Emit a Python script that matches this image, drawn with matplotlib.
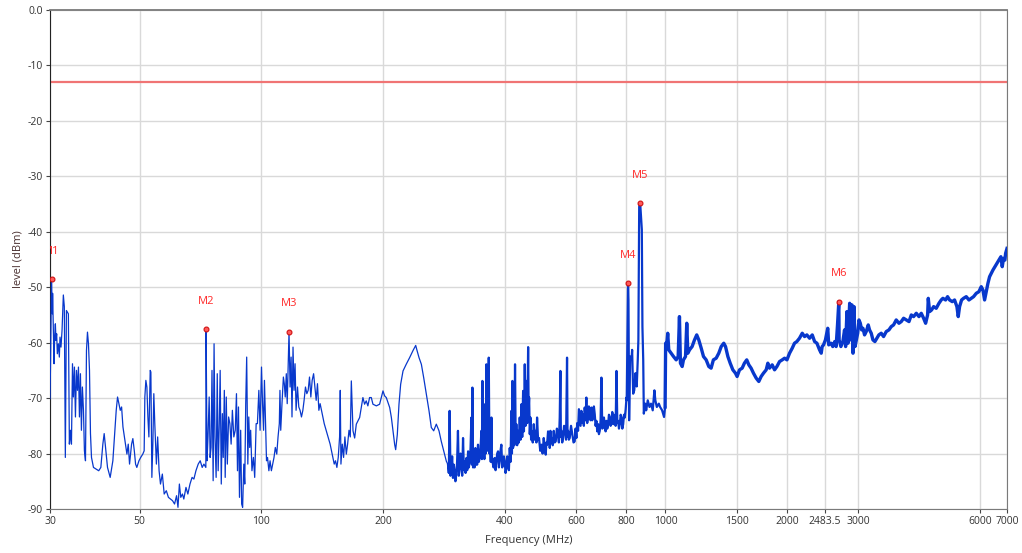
import matplotlib
matplotlib.use("Agg")
from matplotlib import pyplot as plt
import numpy as np

plt.rcParams['font.family'] = ['Open Sans', 'DejaVu Sans']

# spectrum trace (MHz, dBm)
freq_low = [30.0, 30.1, 30.26, 30.4, 30.45, 30.58, 30.7, 30.8, 30.93, 31.04, 31.16, 31.28, 31.46, 31.64,
            31.76, 31.94, 32.13, 32.37, 32.55, 32.74, 32.94, 33.13, 33.31, 33.5, 33.7, 33.9, 34.1, 34.28,
            34.48, 34.68, 34.88, 35.08, 35.28, 35.48, 35.68, 35.88, 36.08, 36.3, 36.5, 36.72, 36.93, 37.14,
            37.35, 37.57, 37.78, 38.0, 38.43, 39.02, 39.6, 40.08, 40.54, 40.85, 41.16, 41.63, 42.27, 42.92,
            43.41, 43.75, 44.08, 44.42, 44.77, 45.11, 45.46, 45.98, 46.5, 46.85, 47.2, 47.75, 48.1, 48.5,
            48.85, 49.2, 49.8, 50.3, 50.9, 51.3, 51.5, 51.8, 52.1, 52.4, 52.7, 53.1, 53.3, 53.6, 53.9, 54.2,
            54.5, 55.0, 55.4, 55.85, 56.3, 56.9, 57.5, 58.2, 58.9, 59.6, 60.3, 61.0, 61.7, 62.2, 62.7, 63.2,
            63.8, 64.3, 65.1, 65.8, 66.6, 67.4, 68.1, 68.9, 69.8, 70.6, 71.4, 72.1, 72.9, 73.0, 73.4, 73.8,
            74.3, 74.7, 75.1, 75.5, 76.0, 76.4, 76.8, 77.3, 77.8, 78.2, 78.7, 79.1, 79.6, 80.1, 80.5, 81.0,
            81.4, 81.9, 82.4, 83.0, 83.6, 84.2, 84.8, 85.5, 86.2, 86.8, 87.3, 87.8, 88.3, 88.9, 89.4, 89.9,
            90.5, 91.0, 91.5, 92.0, 92.6, 93.1, 93.6, 94.1, 94.8, 95.6, 96.3, 97.1, 97.8, 98.6, 99.3, 100.1,
            100.7, 101.3, 101.8, 102.4, 103.0, 103.6, 104.4, 105.1, 105.9, 106.7, 107.5, 108.3, 109.2, 110.0,
            110.8, 111.2, 111.7, 112.5, 113.4, 114.0, 114.6, 115.3, 115.9, 116.5, 117.1, 117.8, 118.5, 119.1,
            119.8, 120.5, 121.2, 121.9, 122.9, 123.8, 124.7, 125.7, 126.7, 127.6, 128.6, 129.6, 130.6, 131.6,
            132.6, 133.6, 134.7, 135.7, 136.7, 137.7, 138.8, 139.8, 140.9, 142.0, 143.1, 144.7, 146.4, 148.0,
            149.7, 151.5, 152.6, 153.8, 155.0, 156.2, 156.8, 157.4, 158.6, 159.8, 161.0, 162.3, 163.5, 164.8,
            166.0, 167.0, 168.6, 170.2, 171.8, 175.1, 178.4, 180.1, 181.8, 183.5, 185.3, 187.1, 188.9, 192.6,
            196.2, 198.1, 200.0, 201.9, 203.8, 205.8, 207.8, 209.8, 211.8, 213.8, 215.0, 217.0, 219.1, 221.2,
            224.2, 228.3, 232.8, 237.4, 241.0, 242.8, 245.6, 248.9, 252.2, 256.0, 260.0, 263.4, 267.0, 271.0,
            275.2, 278.8, 284.2, 287.0, 289.7]
level_low = [-70.1, -63.2, -48.5, -54.8, -51.1, -57.8, -63.8, -59.0, -56.6, -59.6, -58.4, -62.0, -60.2, -62.6,
             -59.0, -60.8, -57.8, -51.4, -53.5, -80.7, -54.2, -54.5, -54.8, -78.3, -75.8, -78.3, -63.8, -69.8,
             -64.4, -73.4, -65.0, -68.6, -64.4, -73.4, -65.6, -75.8, -68.0, -72.2, -79.5, -81.3, -61.4, -58.1,
             -60.2, -65.0, -76.4, -80.7, -82.5, -82.8, -83.1, -82.5, -78.3, -76.4, -78.9, -82.5, -84.3, -81.3,
             -75.8, -72.2, -69.8, -71.0, -72.2, -71.6, -75.2, -77.7, -80.1, -78.3, -81.9, -78.3, -77.3, -79.5,
             -81.9, -82.5, -81.3, -80.7, -80.1, -79.5, -69.8, -66.8, -68.0, -73.4, -77.0, -65.0, -65.3, -84.3,
             -78.3, -69.2, -74.6, -81.9, -77.0, -83.1, -85.5, -83.7, -87.3, -86.7, -87.9, -88.2, -88.5, -89.1,
             -87.6, -89.7, -85.5, -87.9, -87.3, -88.2, -86.1, -87.3, -85.5, -84.3, -84.6, -83.1, -81.9, -81.3,
             -82.5, -81.9, -82.5, -57.6, -81.3, -77.0, -69.8, -80.7, -78.9, -65.0, -84.9, -60.2, -77.0, -84.3,
             -65.6, -83.1, -74.6, -65.0, -85.5, -72.8, -80.7, -68.6, -84.3, -69.8, -81.9, -73.4, -74.6, -78.3,
             -72.2, -77.0, -75.8, -69.2, -83.1, -71.6, -87.9, -75.8, -89.1, -89.7, -81.9, -85.5, -71.0, -62.6,
             -81.9, -73.4, -78.9, -75.8, -83.1, -80.7, -84.3, -74.6, -74.6, -68.6, -75.8, -64.4, -71.0, -75.8,
             -66.8, -74.0, -81.3, -80.7, -83.1, -81.3, -83.1, -81.9, -80.7, -78.9, -80.1, -77.0, -74.6, -68.6,
             -75.8, -71.0, -66.2, -67.4, -69.8, -65.6, -71.0, -64.4, -58.0, -68.0, -62.6, -73.4, -60.8, -68.6,
             -63.8, -72.2, -68.0, -71.6, -72.2, -73.4, -72.2, -70.4, -68.0, -69.2, -68.6, -66.2, -69.8, -66.8,
             -65.6, -68.0, -70.4, -67.4, -72.2, -71.0, -72.2, -73.4, -74.6, -75.8, -77.0, -78.3, -80.1, -81.9,
             -81.3, -82.5, -80.7, -77.0, -68.6, -81.9, -78.3, -80.7, -77.0, -80.1, -78.3, -75.8, -77.0, -66.9,
             -75.9, -77.2, -74.7, -73.5, -69.9, -71.1, -70.5, -71.4, -69.9, -69.9, -71.1, -71.4, -71.1, -69.9,
             -68.7, -69.6, -69.9, -70.8, -71.7, -73.5, -75.9, -78.4, -79.3, -76.6, -71.1, -67.5, -65.1, -63.9,
             -62.7, -61.4, -60.5, -61.4, -62.7, -63.9, -66.3, -69.3, -72.3, -75.3, -75.9, -74.7, -75.9, -77.8,
             -80.2, -81.4, -82.0]

freq_mid = [289.7, 291.0, 292.4, 293.8, 295.2, 296.6, 298.0, 299.4, 300.8, 302.2, 303.7, 305.1, 306.6, 308.1,
            309.6, 311.1, 312.6, 314.1, 315.6, 317.1, 318.7, 320.2, 321.7, 323.2, 324.8, 326.3, 327.9, 329.4,
            331.0, 332.0, 332.9, 334.1, 335.4, 337.0, 338.6, 339.5, 340.4, 342.0, 343.7, 345.3, 347.0, 348.7,
            350.4, 351.4, 352.4, 353.7, 355.1, 356.4, 357.8, 359.1, 360.5, 361.9, 363.3, 364.3, 365.4, 366.8,
            368.2, 369.6, 371.0, 372.0, 373.1, 375.5, 378.0, 379.8, 381.6, 383.4, 385.3, 387.1, 388.9, 390.7,
            392.6, 394.5, 396.4, 398.3, 400.2, 402.1, 404.0, 405.9, 407.9, 409.8, 411.8, 413.7, 415.7, 417.0,
            418.1, 419.6, 421.2, 422.8, 424.4, 426.0, 427.6, 429.6, 431.7, 433.8, 435.9, 438.0, 440.1, 442.2,
            444.4, 446.5, 448.6, 450.7, 452.9, 455.1, 457.3, 458.6, 459.9, 461.6, 463.4, 465.1, 466.9, 469.5,
            472.2, 474.9, 477.6, 479.4, 481.2, 483.9, 486.6, 489.9, 493.2, 496.5, 499.8, 502.6, 505.5, 507.4,
            509.4, 512.3, 515.3, 517.2, 519.2, 521.1, 523.1, 526.1, 529.1, 532.1, 535.2, 538.7, 542.3, 544.9,
            547.5, 549.6, 551.1, 552.7, 555.3, 558.0, 561.2, 564.4, 567.6, 570.8, 572.4, 574.0, 576.7, 579.5,
            583.9, 588.3, 592.3, 596.3, 599.1, 602.0, 604.9, 607.8, 610.7, 613.6, 616.5, 619.4, 622.3, 625.2,
            628.2, 631.2, 634.2, 637.2, 640.2, 643.3, 646.4, 649.5, 652.6, 655.8, 658.9, 662.0, 665.2, 668.4,
            671.6, 674.8, 678.0, 681.3, 684.5, 687.8, 691.0, 694.3, 697.6, 701.0, 704.3, 707.7, 711.1, 714.5,
            717.9, 721.3, 724.7, 728.2, 731.6, 735.1, 738.6, 742.2, 745.7, 749.3, 752.9, 756.5, 760.1, 763.7,
            767.3, 771.0, 774.7, 778.4, 782.1, 785.9, 789.6, 793.4, 797.2, 801.0, 802.0,
            808.0, 810.0, 813.0, 818.0, 824.0, 827.0, 832.0, 837.0, 843.0, 849.0, 854.0, 857.0, 861.0, 864.0,
            867.0, 871.0, 874.0, 877.0, 881.0, 884.0, 891.0, 896.0, 904.0, 913.0, 921.0, 930.0, 939.0, 944.0,
            952.0, 963.0, 970.0, 981.0, 992.0, 998.0]
level_mid = [-82.0, -83.5, -72.3, -84.0, -83.2, -80.5, -84.4, -82.0, -83.2, -85.0, -83.8, -81.5, -75.9, -84.0,
             -82.6, -80.0, -82.0, -84.0, -77.2, -83.0, -81.4, -83.5, -80.8, -83.0, -79.6, -82.5, -81.4, -79.0,
             -73.5, -82.0, -68.1, -82.5, -80.8, -82.5, -79.0, -82.0, -80.2, -82.0, -78.4, -81.5, -80.8, -79.0,
             -75.9, -81.0, -66.9, -80.5, -78.4, -81.0, -71.1, -80.0, -63.9, -79.5, -75.9, -79.0, -62.7, -80.0,
             -78.4, -81.5, -73.5, -80.5, -81.4, -82.5, -80.8, -83.0, -81.4, -80.0, -79.6, -82.5, -81.4, -79.5,
             -78.4, -82.5, -82.0, -80.5, -81.4, -83.5, -82.6, -80.5, -81.4, -83.0, -79.0, -81.5, -72.3, -80.0,
             -66.9, -79.0, -75.9, -78.5, -63.9, -78.0, -74.7, -78.5, -75.9, -78.0, -73.5, -77.5, -71.1, -77.0,
             -68.7, -76.0, -63.9, -75.0, -66.9, -74.5, -60.8, -72.0, -69.9, -76.5, -73.5, -77.5, -75.9, -78.0,
             -74.7, -77.5, -75.9, -78.0, -73.5, -77.5, -77.2, -79.5, -78.4, -80.0, -77.2, -79.0, -80.2, -78.0,
             -78.4, -76.0, -77.2, -79.0, -75.9, -78.0, -77.2, -78.5, -75.9, -78.0, -77.8, -75.5, -76.6, -78.0,
             -73.5, -65.1, -77.0, -75.9, -78.0, -77.2, -75.0, -75.9, -77.5, -62.7, -77.0, -75.9, -77.5, -77.2,
             -75.0, -76.6, -78.0, -77.8, -75.5, -77.2, -74.5, -75.9, -72.0, -73.5, -75.0, -72.3, -74.5, -72.9,
             -75.0, -71.7, -74.0, -69.9, -74.5, -73.5, -71.5, -72.3, -74.0, -71.7, -74.0, -73.5, -71.5, -72.9,
             -75.0, -74.1, -76.0, -74.7, -76.5, -75.9, -74.0, -66.3, -75.5, -75.3, -73.5, -74.7, -76.0, -74.1,
             -75.5, -74.7, -73.0, -73.5, -75.0, -74.1, -72.5, -74.7, -73.0, -73.5, -75.0, -65.1, -74.5, -74.1,
             -75.5, -74.7, -73.0, -73.5, -75.5, -74.7, -73.0, -73.5, -72.0, -69.9, -70.4,
             -49.2, -52.3, -74.0, -62.5, -63.1, -61.3, -69.2, -68.6, -65.5, -67.9, -63.1, -59.5, -35.5, -34.8,
             -35.5, -37.9, -39.6, -57.1, -63.1, -72.8, -71.0, -72.2, -70.4, -71.6, -71.0, -72.2, -68.6, -70.4,
             -71.6, -71.0, -71.6, -72.2, -73.4, -71.6]

freq_high = [998.0, 1001, 1006, 1013, 1019, 1033, 1047, 1063, 1075, 1083, 1089, 1100, 1108, 1121, 1129, 1136,
             1147, 1164, 1180, 1195, 1209, 1226, 1242, 1261, 1280, 1297, 1314, 1335, 1355, 1374, 1394, 1408,
             1427, 1446, 1468, 1490, 1504, 1525, 1548, 1568, 1589, 1608, 1629, 1651, 1677, 1702, 1725, 1748,
             1775, 1792, 1809, 1837, 1862, 1887, 1916, 1945, 1971, 1998, 2028, 2059, 2086, 2114, 2146, 2180,
             2209, 2238, 2273, 2308, 2339, 2370, 2406, 2429, 2442, 2461, 2488, 2521, 2535, 2569, 2594, 2623,
             2644, 2665, 2685, 2690, 2717, 2748, 2774, 2791, 2812, 2829, 2856, 2872, 2895, 2911, 2928, 2945,
             2967, 2990, 3012, 3035, 3058, 3081, 3109, 3139, 3175, 3199, 3230, 3261, 3298, 3336, 3373, 3419,
             3465, 3518, 3572, 3620, 3668, 3724, 3782, 3832, 3884, 3943, 4005, 4058, 4112, 4175, 4239, 4295,
             4353, 4403, 4453, 4470, 4504, 4555, 4608, 4677, 4750, 4812, 4859, 4933, 4989, 5047, 5124, 5192,
             5262, 5302, 5343, 5404, 5466, 5550, 5635, 5710, 5787, 5875, 5965, 6045, 6103, 6161, 6220, 6279,
             6339, 6400, 6461, 6535, 6610, 6686, 6761, 6812, 6864, 6917, 6944, 7000]
level_high = [-71.6, -60.1, -60.7, -58.3, -61.3, -61.9, -62.5, -63.1, -62.5, -55.3, -63.7, -64.3, -63.1, -62.5,
              -56.5, -61.9, -61.3, -60.7, -59.5, -58.6, -59.5, -61.0, -62.5, -63.1, -64.3, -64.6, -63.1, -62.8,
              -61.9, -60.7, -60.1, -60.7, -62.5, -63.7, -64.9, -65.5, -66.1, -64.9, -64.6, -63.7, -63.1, -64.0,
              -64.6, -65.5, -66.4, -67.0, -66.1, -65.5, -64.9, -63.7, -64.6, -64.0, -64.9, -64.3, -63.4, -63.1,
              -62.8, -63.1, -61.9, -61.0, -60.1, -59.8, -59.2, -58.3, -58.9, -58.6, -59.2, -58.6, -59.8, -60.1,
              -61.3, -61.9, -60.7, -60.4, -59.5, -57.4, -60.4, -60.1, -60.7, -59.8, -60.7, -56.8, -52.6, -59.5,
              -60.7, -59.8, -57.7, -60.7, -54.4, -60.1, -52.9, -59.5, -53.2, -61.9, -53.5, -60.7, -59.5, -58.3,
              -55.9, -56.5, -57.7, -57.4, -58.6, -58.0, -56.8, -57.7, -58.3, -59.5, -59.8, -59.2, -58.6, -58.3,
              -58.9, -58.0, -57.7, -57.1, -56.8, -55.9, -56.5, -56.2, -55.6, -55.9, -56.2, -55.0, -55.3, -54.7,
              -55.3, -54.7, -55.6, -56.5, -55.0, -52.0, -54.4, -54.1, -53.5, -53.8, -52.9, -52.3, -52.0, -52.3,
              -51.7, -52.3, -52.6, -52.3, -53.5, -55.3, -53.5, -52.3, -52.0, -51.7, -52.3, -52.0, -51.7, -51.1,
              -50.8, -49.9, -50.5, -52.3, -50.8, -49.3, -48.1, -47.5, -46.9, -46.3, -45.7, -45.1, -44.5, -46.3,
              -44.8, -45.1, -43.9, -43.0]

limit_level = -13.0

marker_names = ["M1", "M2", "M3", "M4", "M5", "M6"]
marker_freq = [30.26, 73.0, 117.1, 808.0, 864.0, 2685]
marker_level = [-48.5, -57.6, -58.0, -49.2, -34.8, -52.6]

xtick_vals = [30, 50, 100, 200, 400, 600, 800, 1000, 1500, 2000, 2483.5, 3000, 6000, 7000]
xtick_labels = ["30", "50", "100", "200", "400", "600", "800", "1000", "1500", "2000", "2483.5", "3000",
                "6000", "7000"]
ytick_vals = [0, -10, -20, -30, -40, -50, -60, -70, -80, -90]
ytick_labels = ["0.0", "-10", "-20", "-30", "-40", "-50", "-60", "-70", "-80", "-90"]

fig = plt.figure(figsize=(10.22, 5.53), dpi=100)
ax = fig.add_axes([50 / 1022, 1 - 509 / 553, 957 / 1022, 499 / 553])

ax.set_xscale('log')
ax.set_xlim(30, 7000)
ax.set_ylim(-90, 0)

trace_color = '#0838cc'
ax.plot(freq_low, level_low, color=trace_color, lw=0.9, zorder=3)
ax.plot(freq_mid, level_mid, color=trace_color, lw=1.6, zorder=3)
ax.plot(freq_high, level_high, color=trace_color, lw=2.4, zorder=3)

ax.axhline(limit_level, color='#f07474', lw=1.6, zorder=2)

ax.plot(marker_freq, marker_level, 'o', ms=3.5, mfc='#ff5a5a', mec='#d01010', mew=0.8, zorder=4)
for name, f, lv in zip(marker_names, marker_freq, marker_level):
    t = ax.annotate(name, (f, lv), xytext=(0, 20), textcoords='offset points', ha='center', va='center',
                    color='#ff2a2a', fontsize=8)
    t.set_clip_on(True)
    t.set_clip_box(ax.bbox)

ax.set_xticks(xtick_vals)
ax.set_xticklabels(xtick_labels)
ax.xaxis.set_minor_locator(plt.NullLocator())
ax.set_yticks(ytick_vals)
ax.set_yticklabels(ytick_labels)

ax.grid(True, color='#d9d9d9', lw=1.0, zorder=0)
ax.set_axisbelow(True)
ax.tick_params(axis='both', length=3, width=0.8, color='#444444', labelsize=7.5, labelcolor='#333333', pad=2)

for side in ['top', 'right', 'bottom']:
    ax.spines[side].set_color('#7a7a7a')
ax.spines['top'].set_linewidth(1.3)
ax.spines['left'].set_color('#222222')

ax.set_xlabel('Frequency (MHz)', fontsize=8, color='#333333', labelpad=6)
ax.set_ylabel('level (dBm)', fontsize=8, color='#4a3030', labelpad=3)

fig.savefig('out.png', dpi=100)
